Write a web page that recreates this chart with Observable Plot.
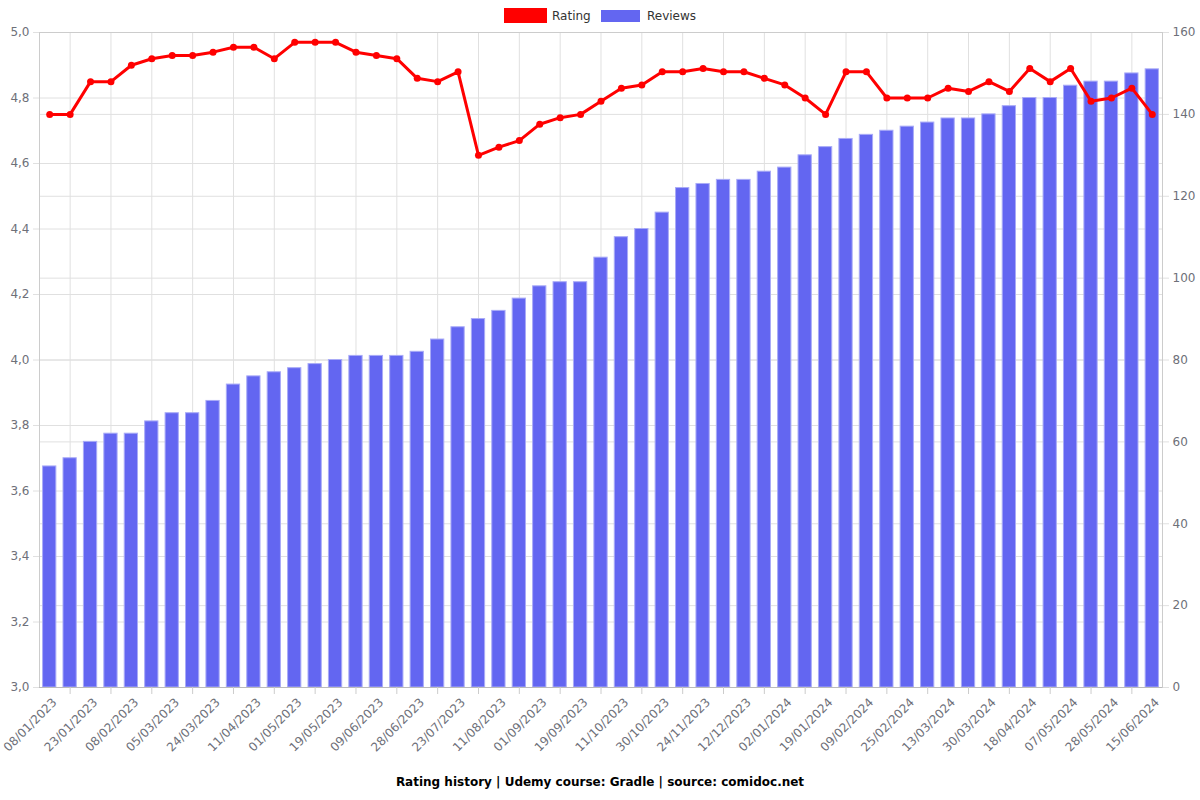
<!DOCTYPE html>
<html><head><meta charset="utf-8">
<script src="https://cdn.jsdelivr.net/npm/d3@7"></script>
<script src="https://cdn.jsdelivr.net/npm/@observablehq/plot@0.6"></script>
<style>
body{margin:0;background:#fff;font-family:"DejaVu Sans",sans-serif;}
#legend{position:relative;height:24px;width:1200px;font-size:12px;color:#333;}
#legend .sw{position:absolute;}
#legend .lb{position:absolute;top:9px;line-height:14px;}
#caption{width:1200px;text-align:center;font-weight:bold;font-size:12px;color:#000;line-height:16px;}
</style></head><body>
<div id="legend"></div>
<div id="chart"></div>
<div id="caption">Rating history | Udemy course: Gradle | source: comidoc.net</div>
<script>
const tickLabels = ["08/01/2023","23/01/2023","08/02/2023","05/03/2023","24/03/2023","11/04/2023","01/05/2023","19/05/2023","09/06/2023","28/06/2023","23/07/2023","11/08/2023","01/09/2023","19/09/2023","11/10/2023","30/10/2023","24/11/2023","12/12/2023","02/01/2024","19/01/2024","09/02/2024","25/02/2024","13/03/2024","30/03/2024","18/04/2024","07/05/2024","28/05/2024","15/06/2024"];
const reviews = [54,56,60,62,62,65,67,67,70,74,76,77,78,79,80,81,81,81,82,85,88,90,92,95,98,99,99,105,110,112,116,122,123,124,124,126,127,130,132,134,135,136,137,138,139,139,140,142,144,144,147,148,148,150,151];
const ratings = [4.75,4.75,4.85,4.85,4.90,4.92,4.93,4.93,4.94,4.955,4.955,4.92,4.97,4.97,4.97,4.94,4.93,4.92,4.86,4.85,4.88,4.625,4.65,4.67,4.72,4.74,4.75,4.79,4.83,4.84,4.88,4.88,4.89,4.88,4.88,4.86,4.84,4.80,4.75,4.88,4.88,4.80,4.80,4.80,4.83,4.82,4.85,4.82,4.89,4.85,4.89,4.79,4.80,4.83,4.75];
const ratingTicks = [3.0,3.2,3.4,3.6,3.8,4.0,4.2,4.4,4.6,4.8,5.0];
const reviewTicks = [0,20,40,60,80,100,120,140,160];
const series = [{name:"Rating",color:"#ff0000"},{name:"Reviews",color:"#6366f1"}];

// legend
const leg = document.getElementById("legend");
const legPos = [{sx:504,sy:8,w:43,h:15,tx:552},{sx:601,sy:10,w:39,h:12,tx:647}];
series.forEach((s,k)=>{
  const p = legPos[k];
  const sw = document.createElement("div");
  sw.className="sw"; sw.style.left=p.sx+"px"; sw.style.top=p.sy+"px";
  sw.style.width=p.w+"px"; sw.style.height=p.h+"px"; sw.style.background=s.color;
  leg.appendChild(sw);
  const lb = document.createElement("div");
  lb.className="lb"; lb.style.left=p.tx+"px"; lb.textContent=s.name;
  leg.appendChild(lb);
});

const n = reviews.length;
const idx = d3.range(n);
const data = idx.map(i=>({i, reviews: reviews[i], rating: ratings[i]}));
const toY = v => 3 + v/80;
const evenIdx = idx.filter(i=>i%2===0);
const oddIdx = idx.filter(i=>i%2===1);
const grid = "#e0e0e0";

const chart = Plot.plot({
  width:1200, height:750,
  marginTop:8, marginBottom:87, marginLeft:39, marginRight:38,
  x:{type:"band", domain:idx, paddingInner:0.35, paddingOuter:0.175, round:false, axis:null, label:null},
  y:{domain:[3,5], axis:null, label:null},
  style:{fontFamily:"DejaVu Sans", fontSize:"12px", color:"#6e7079", background:"#fff", overflow:"visible"},
  marks:[
    Plot.ruleY(ratingTicks, {stroke:grid}),
    Plot.ruleY(reviewTicks.map(toY), {stroke:grid}),
    Plot.ruleX(oddIdx, {x:d=>d, stroke:grid}),
    Plot.frame({stroke:"#ccc"}),
    Plot.axisY(ratingTicks, {anchor:"left", label:null, tickSize:6, tickPadding:4, stroke:grid, tickFormat:d=>d.toFixed(1).replace(".",",")}),
    Plot.axisY(reviewTicks.map(toY), {anchor:"right", label:null, tickSize:6, tickPadding:4, stroke:grid, tickFormat:d=>String(Math.round((d-3)*80))}),
    Plot.barY(data, {x:"i", y1:3, y2:d=>toY(d.reviews), fill:"#6366f1", stroke:"#a9abf7", strokeWidth:1}),
    Plot.ruleY([3], {stroke:"#bbb"}),
    Plot.axisX(oddIdx, {anchor:"bottom", label:null, tickSize:7, stroke:"#ccc", tickFormat:()=>""}),
    Plot.text(evenIdx, {x:d=>d, y:3, text:d=>tickLabels[d/2], rotate:-45, textAnchor:"end", dy:13, dx:5, fill:"#6e7079", fontSize:12}),
    Plot.line(data, {x:"i", y:"rating", stroke:"#ff0000", strokeWidth:3}),
    Plot.dot(data, {x:"i", y:"rating", r:3.5, fill:"#ff0000"})
  ]
});
document.getElementById("chart").appendChild(chart);
</script>
</body></html>
